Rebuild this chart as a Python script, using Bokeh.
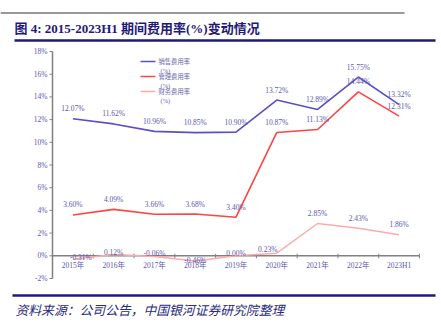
import math
from bokeh.plotting import figure
from bokeh.models import Range1d, ColumnDataSource
from bokeh.core.properties import value
from bokeh.embed import file_html
from bokeh.resources import INLINE

# ---------------- data ----------------
categories = ["2015年", "2016年", "2017年", "2018年", "2019年", "2020年", "2021年", "2022年", "2023H1"]
sales = [12.07, 11.62, 10.96, 10.85, 10.90, 13.72, 12.89, 15.75, 13.32]
admin = [3.60, 4.09, 3.66, 3.68, 3.40, 10.87, 11.13, 14.44, 12.31]
finance = [-0.31, 0.12, -0.06, -0.46, 0.00, 0.23, 2.85, 2.43, 1.86]
series_names = ["销售费用率", "管理费用率", "财务费用率"]
series_unit = "(%)"
y_ticks = [-2, 0, 2, 4, 6, 8, 10, 12, 14, 16, 18]
title_text = "图 4: 2015-2023H1 期间费用率(%)变动情况"
source_text = "资料来源：公司公告，中国银河证券研究院整理"

# label placement tweaks (pixels)
fin_dy = [-2, -2, -3, -1, -2, -4, -10, -10, -10]
fin_dx = [8, 0, 0, 0, 0, -9, 0, 0, 0]

# ---------------- layout constants ----------------
W, H = 441, 332
PX_L, PX_R, PX_T, PX_B = 52, 419, 51, 278   # plot area in canvas pixels
YMIN, YMAX = -2, 18
ncat = len(categories)
ux = (PX_R - PX_L) / ncat
uy = (PX_B - PX_T) / (YMAX - YMIN)

SERIF = "Liberation Serif"
CJK = "Noto Sans CJK SC"
NAVY = "#1f1a7a"
LBL = "#5b57b0"
AX = "#808080"
COLORS = ["#5a4fc4", "#ff4444", "#ffaaaa"]

p = figure(width=W, height=H,
           x_range=Range1d(-PX_L / ux, ncat + (W - PX_R) / ux),
           y_range=Range1d(YMIN - (H - PX_B) / uy, YMAX + PX_T / uy),
           output_backend="svg", toolbar_location=None, min_border=0,
           x_axis_location=None, y_axis_location=None, outline_line_color=None)
p.xgrid.visible = False
p.ygrid.visible = False
p.extra_x_ranges = {"px": Range1d(0, W)}
p.extra_y_ranges = {"px": Range1d(H, 0)}

# ---------------- header / footer (canvas pixels) ----------------
p.line([0, 404], [12.5, 12.5], line_color="#333333", line_width=1, x_range_name="px", y_range_name="px")
p.line([14, 435], [40, 40], line_color=NAVY, line_width=2.5, x_range_name="px", y_range_name="px")
p.text(x=[14], y=[28], text=[title_text], text_font=value(SERIF + ", " + CJK), text_font_style="bold",
       text_font_size="13px", text_color=NAVY, text_baseline="middle", text_align="left",
       x_range_name="px", y_range_name="px")
p.line([12, 435], [295, 295], line_color=NAVY, line_width=2.5, x_range_name="px", y_range_name="px")
p.text(x=[15], y=[309], text=[source_text], text_font=value(CJK), text_font_style="italic",
       text_font_size="12.8px", text_color="#2a2a80", text_baseline="middle", text_align="left",
       x_range_name="px", y_range_name="px")

# ---------------- y axis ----------------
p.segment(x0=[0], y0=[YMIN], x1=[0], y1=[YMAX], line_color=AX, line_width=1.5)
p.ray(x=[0] * len(y_ticks), y=y_ticks, length=3, length_units="screen", angle=math.pi,
      line_color=AX, line_width=1)
p.text(x=[0] * len(y_ticks), y=y_ticks, text=["%d%%" % t for t in y_ticks], x_offset=-5,
       text_font=value(SERIF), text_font_size="7.5px", text_color=LBL,
       text_align="right", text_baseline="middle")

# ---------------- x axis at zero ----------------
xs = [i + 0.5 for i in range(ncat)]
bx = list(range(ncat + 1))
p.segment(x0=[0], y0=[0], x1=[ncat], y1=[0], line_color=AX, line_width=1.5)
p.ray(x=bx, y=[0] * len(bx), length=2.5, length_units="screen", angle=-math.pi / 2, line_color=AX, line_width=1)
p.ray(x=bx, y=[0] * len(bx), length=2, length_units="screen", angle=math.pi / 2, line_color=AX, line_width=1)
p.text(x=xs, y=[0] * ncat, text=categories, text_font=value(SERIF + ", " + CJK), text_font_size="7.5px",
       text_color=LBL, text_align="center", text_baseline="middle", y_offset=10)

# ---------------- series ----------------
p.line(xs, sales, line_color=COLORS[0], line_width=1.6)
p.line(xs, admin, line_color=COLORS[1], line_width=1.6)
p.line(xs, finance, line_color=COLORS[2], line_width=1.4)


def fmt(v):
    return "%.2f%%" % v


for vals in (sales, admin):
    p.text(x=xs, y=vals, text=[fmt(v) for v in vals], text_font=value(SERIF), text_font_size="7.5px",
           text_color=LBL, text_align="center", text_baseline="middle", y_offset=-10)
fsrc = ColumnDataSource(dict(x=xs, y=finance, t=[fmt(v) for v in finance], dx=fin_dx, dy=fin_dy))
p.text(x="x", y="y", text="t", x_offset="dx", y_offset="dy", source=fsrc, text_font=value(SERIF),
       text_font_size="7.5px", text_color=LBL, text_align="center", text_baseline="middle")

# ---------------- legend (drawn in canvas pixels) ----------------
leg_y = [61, 76, 91]
for i, name in enumerate(series_names):
    yy = leg_y[i]
    p.line([140, 155], [yy, yy], line_color=COLORS[i], line_width=1.6, x_range_name="px", y_range_name="px")
    p.text(x=[158], y=[yy], text=[name], text_font=value(CJK), text_font_size="6.3px",
           text_color="#6a66aa", text_align="left", text_baseline="middle",
           x_range_name="px", y_range_name="px")
    p.text(x=[160], y=[yy + 8.5], text=[series_unit], text_font=value(SERIF), text_font_size="6.5px",
           text_color="#6a66aa", text_align="left", text_baseline="middle",
           x_range_name="px", y_range_name="px")

open("out.html", "w").write(file_html(p, INLINE))
